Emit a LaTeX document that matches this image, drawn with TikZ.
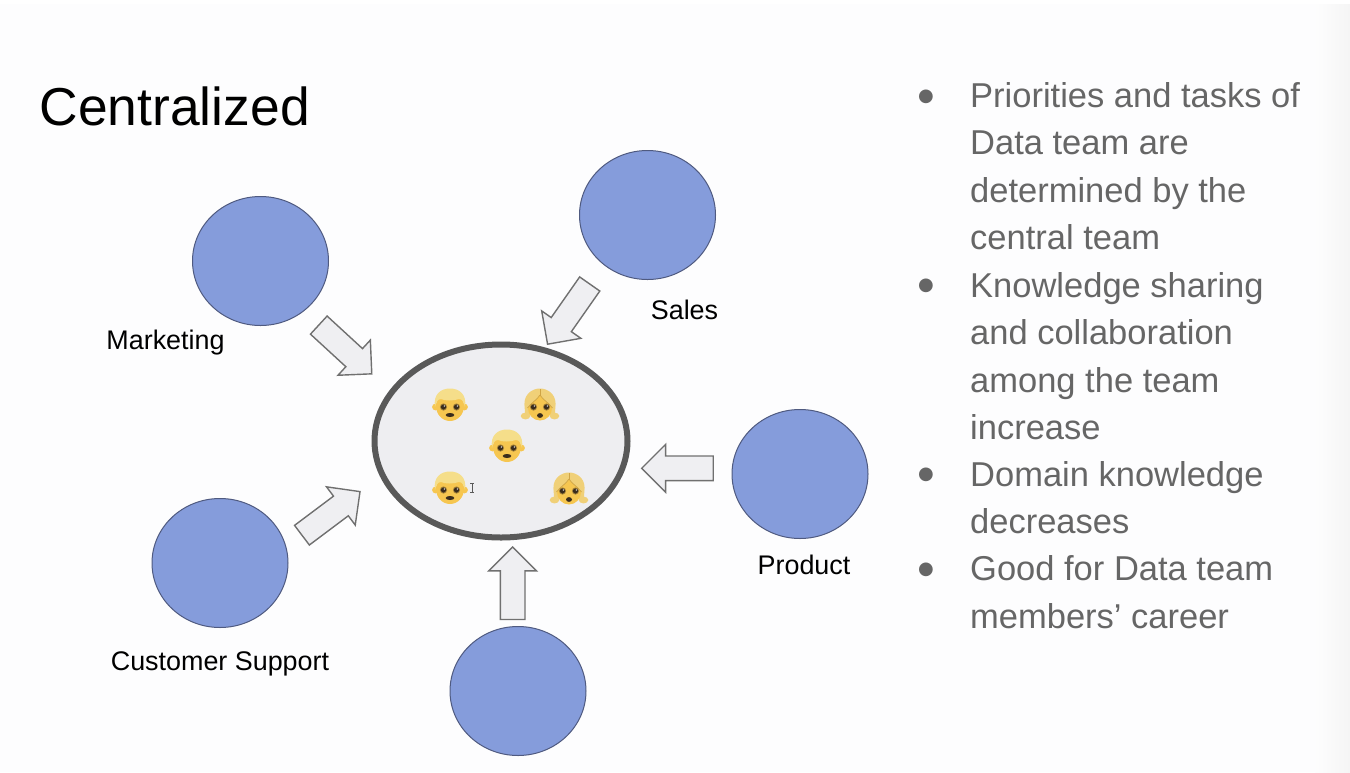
\documentclass[tikz,border=0pt]{standalone}
\usepackage{fontspec}
\setmainfont{Liberation Sans}
\newfontfamily\symfont{DejaVu Sans}
\usetikzlibrary{shapes.geometric,shapes.arrows}
\definecolor{dept}{HTML}{859CDB}
\definecolor{deptline}{HTML}{4F5A80}
\definecolor{arrowfill}{HTML}{EFEFF2}
\definecolor{arrowline}{HTML}{707070}
\definecolor{hubfill}{HTML}{EEEEF1}
\definecolor{hubline}{HTML}{595959}
\definecolor{bodytext}{HTML}{666666}
\definecolor{skin}{HTML}{F6C650}
\definecolor{hairboy}{HTML}{F5DE8A}
\definecolor{hairgirl}{HTML}{F0D078}
\definecolor{hairline}{HTML}{CFA445}
\definecolor{eyering}{HTML}{A8853A}
\definecolor{facedark}{HTML}{3A2C1C}
\tikzset{
  x=1pt,y=-1pt,
  dept/.style={ellipse,draw=deptline,line width=1pt,fill=dept,minimum width=136pt,minimum height=129pt,inner sep=0pt},
  hub/.style={ellipse,draw=hubline,line width=6pt,fill=hubfill,minimum width=253pt,minimum height=193pt,inner sep=0pt},
  blockarrow/.style={single arrow,draw=arrowline,line width=1.4pt,fill=arrowfill,single arrow head extend=11.6pt,inner xsep=0pt,inner ysep=11.6pt,anchor=tip},
  lab/.style={anchor=base,inner sep=0pt,font=\fontsize{26.9}{30}\selectfont,text=black},
  para/.style={anchor=base west,inner sep=0pt,align=left,text=bodytext,font=\fontsize{34.5}{47.4}\selectfont},
  dotb/.style={anchor=center,inner sep=0pt,text=bodytext,font=\symfont\fontsize{18}{18}\selectfont},
  eyes/.pic={
    \fill[eyering] (-6.5,3) circle[radius=3.6] (6.5,3) circle[radius=3.6];
    \fill[facedark] (-6.5,3) circle[radius=2.6] (6.5,3) circle[radius=2.6];
    \fill[white] (-5.6,2) circle[radius=.7] (7.4,2) circle[radius=.7];
  },
  boyface/.pic={
    \fill[skin] (-14.5,3) circle[radius=3.4] (14.5,3) circle[radius=3.4];
    \fill[skin] (0,2) ellipse[x radius=14,y radius=15];
    \fill[hairboy] (-15,3) .. controls (-17,-10) and (-9,-15.5) .. (0,-15.5) .. controls (9,-15.5) and (17,-10) .. (15,3)
       .. controls (14,-2) and (12,-5) .. (9,-5) .. controls (3,-3) and (-5,-3) .. (-9,-5) .. controls (-12,-5) and (-14,-2) .. (-15,3) -- cycle;
    \pic {eyes};
    \fill[facedark] (0,11) ellipse[x radius=4.4,y radius=2];
  },
  girlface/.pic={
    \fill[hairgirl] (-14.5,12) ellipse[x radius=4.8,y radius=3.4];
    \fill[hairgirl] (14.5,12) ellipse[x radius=4.8,y radius=3.4];
    \fill[hairgirl] (0,-1) ellipse[x radius=15.5,y radius=14.5];
    \fill[hairgirl] (-15.5,-1) -- (-15,11) -- (15,11) -- (15.5,-1) -- cycle;
    \fill[skin] (0,4) ellipse[x radius=12,y radius=12.5];
    \fill[hairgirl] (0,-9) .. controls (-3,-4) and (-8,-2) .. (-12.5,4) -- (-13,-8) -- (13,-8) -- (12.5,4) .. controls (8,-2) and (3,-4) .. (0,-9) -- cycle;
    \draw[hairline,line width=.9pt] (0,-15) -- (0,-8);
    \draw[hairline,line width=.7pt] (0,-9) .. controls (-3,-4) and (-8,-2) .. (-12.5,4);
    \draw[hairline,line width=.7pt] (0,-9) .. controls (3,-4) and (8,-2) .. (12.5,4);
    \begin{scope}[xscale=.9]\pic {eyes};\end{scope}
    \fill[facedark] (0,11.5) ellipse[x radius=3,y radius=2.4];
  },
}
\begin{document}
\begin{tikzpicture}
\useasboundingbox (0,0) rectangle (1350,772);
\fill[white] (0,0) rectangle (1350,772);
\fill[white!50!hubfill!20!white] (0,4) rectangle (1315,772);
\shade[left color=white!50!hubfill!20!white,right color=black!4] (1315,4) rectangle (1350,772);

\node[anchor=base west,inner sep=0pt,font=\fontsize{53.4}{60}\selectfont] (title) at (39.5,125) {Centralized};

\node[dept] (marketing) at (260.5,261) {};
\node[dept] (sales) at (647.5,215) {};
\node[dept] (product) at (800,474) {};
\node[dept] (support) at (220,563) {};
\node[dept] (other) at (518,691) {};
\node[hub] (team) at (501,441) {};

\node[blockarrow,minimum height=72pt,rotate=-42.6] (a1) at (372.5,374.5) {};
\node[blockarrow,minimum height=73.5pt,rotate=235] (a2) at (547,345) {};
\node[blockarrow,minimum height=71.6pt,rotate=180] (a3) at (640.7,468.3) {};
\node[blockarrow,minimum height=72.5pt,rotate=90] (a4) at (512.7,546) {};
\node[blockarrow,minimum height=72.6pt,rotate=36.9] (a5) at (360.8,491) {};

\node[lab] (lmarketing) at (165.5,349) {Marketing};
\node[lab] (lsales) at (684.5,319) {Sales};
\node[lab] (lproduct) at (804,574.5) {Product};
\node[lab] (lsupport) at (220,670.5) {Customer Support};

\pic at (450,404) {boyface};
\pic at (540,404) {girlface};
\pic at (507,445) {boyface};
\pic at (450,487) {boyface};
\pic at (569,488) {girlface};
% text cursor
\draw[black!65,line width=.8pt] (470,483.5) -- (474,483.5) (472,483.5) -- (472,492.5) (470,492.5) -- (474,492.5);

\node[dotb] (b1) at (926,96.5) {●};
\node[dotb] (b2) at (926,286) {●};
\node[dotb] (b3) at (926,475) {●};
\node[dotb] (b4) at (926,570) {●};
\node[para] (p1) at (970,249.5) {Priorities and tasks of\\Data team are\\determined by the\\central team};
\node[para] (p2) at (970,439.4) {Knowledge sharing\\and collaboration\\among the team\\increase};
\node[para] (p3) at (970,533.4) {Domain knowledge\\decreases};
\node[para] (p4) at (970,628.2) {Good for Data team\\members’ career};
\end{tikzpicture}
\end{document}
